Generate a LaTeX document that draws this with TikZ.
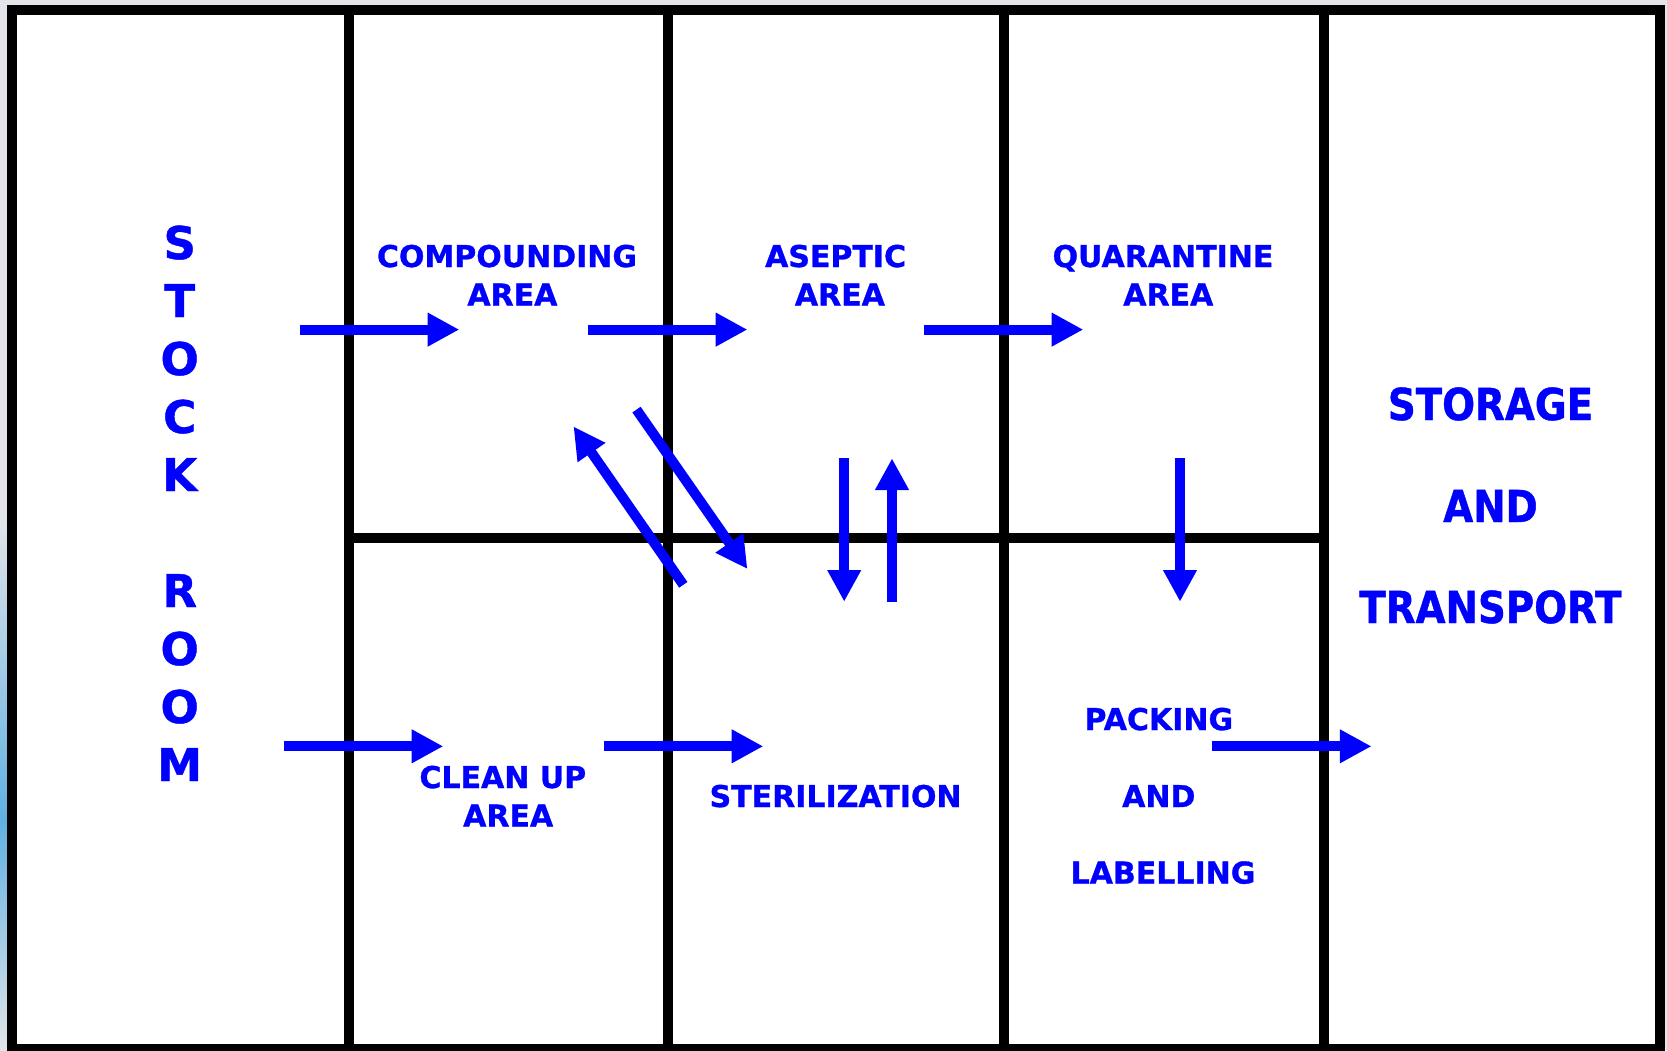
\documentclass[tikz,border=0pt]{standalone}
\usepackage{fontspec}
\setmainfont{DejaVu Sans}[BoldFeatures={FakeBold=1}]
\newfontfamily\narrowfont{DejaVu Sans}[FakeStretch=0.88,BoldFeatures={FakeBold=1}]
\usetikzlibrary{arrows.meta}
\definecolor{bgframe}{RGB}{226,228,234}
\definecolor{stripblue}{RGB}{96,176,226}
\definecolor{flowblue}{RGB}{0,0,255}
\tikzset{
  wall/.style={draw=black, line width=10pt},
  flow/.style={draw=flowblue, line width=10pt, -{Triangle[length=31.7pt,width=31.7pt]}},
  lab/.style={text=flowblue, font=\bfseries\fontsize{30}{36}\selectfont, anchor=base, inner sep=0pt},
  biglab/.style={text=flowblue, font=\narrowfont\bfseries\fontsize{44}{48}\selectfont, anchor=base, inner sep=0pt},
  stocklab/.style={text=flowblue, font=\bfseries\fontsize{45}{50}\selectfont, anchor=base, inner sep=0pt}
}
\begin{document}
\begin{tikzpicture}[x=1pt,y=-1pt]
\useasboundingbox (0,0) rectangle (1667,1050);
% screenshot margin
\fill[bgframe] (0,0) rectangle (1667,1050);
\shade[top color=bgframe, bottom color=stripblue] (0,520) rectangle (7,820);
\shade[top color=stripblue, bottom color=bgframe] (0,820) rectangle (7,1050);
% plan
\fill[white] (12,10) rectangle (1660,1049);
\draw[wall] (12,10) rectangle (1660,1049);
\draw[wall] (348.5,10) -- (348.5,1049);
\draw[wall] (668,10) -- (668,1049);
\draw[wall] (1004,10) -- (1004,1049);
\draw[wall] (1324,10) -- (1324,1049);
\draw[wall] (348.5,537.5) -- (1324,537.5);

% labels
\foreach \ch [count=\i from 0] in {S,T,O,C,K}
  \node[stocklab] (stock\i) at (179.7,259+58*\i) {\ch};
\foreach \ch [count=\i from 0] in {R,O,O,M}
  \node[stocklab] (room\i) at (179.7,607+58*\i) {\ch};

\node[lab] (comp1) at (507,267) {COMPOUNDING};
\node[lab] (comp2) at (512.4,305.5) {AREA};
\node[lab] (asep1) at (835.6,267) {ASEPTIC};
\node[lab] (asep2) at (839.9,305.5) {AREA};
\node[lab] (quar1) at (1163,267) {QUARANTINE};
\node[lab] (quar2) at (1168.3,305.5) {AREA};
\node[lab] (clean1) at (502.8,788) {CLEAN UP};
\node[lab] (clean2) at (508.2,826.5) {AREA};
\node[lab] (steril) at (835.6,807) {STERILIZATION};
\node[lab] (pack1) at (1158.8,730) {PACKING};
\node[lab] (pack2) at (1158.8,807) {AND};
\node[lab] (pack3) at (1163,883.5) {LABELLING};
\node[biglab] (stor1) at (1490.5,420) {STORAGE};
\node[biglab] (stor2) at (1490.5,522) {AND};
\node[biglab] (stor3) at (1490.5,623) {TRANSPORT};

% flow arrows
\coordinate (a1s) at (299.8,329.6);  \coordinate (a1e) at (459.3,329.6);
\coordinate (a2s) at (587.9,329.6);  \coordinate (a2e) at (747.4,329.6);
\coordinate (a3s) at (923.8,329.6);  \coordinate (a3e) at (1083.3,329.6);
\coordinate (a4s) at (283.8,746.3);  \coordinate (a4e) at (443.3,746.3);
\coordinate (a5s) at (603.8,746.3);  \coordinate (a5e) at (763.3,746.3);
\coordinate (a6s) at (1212,746.3);   \coordinate (a6e) at (1371.5,746.3);
\coordinate (a7s) at (683.3,584.8);  \coordinate (a7e) at (573.5,426.5);
\coordinate (a8s) at (636.5,409.6);  \coordinate (a8e) at (747.4,569);
\coordinate (a9s) at (844.2,458.3);  \coordinate (a9e) at (844.2,601.7);
\coordinate (a10s) at (892,602.3);   \coordinate (a10e) at (892,458.3);
\coordinate (a11s) at (1180,458.3);  \coordinate (a11e) at (1180,601.7);
\foreach \k in {1,...,11}
  \draw[flow] (a\k s) -- (a\k e);
\end{tikzpicture}
\end{document}
